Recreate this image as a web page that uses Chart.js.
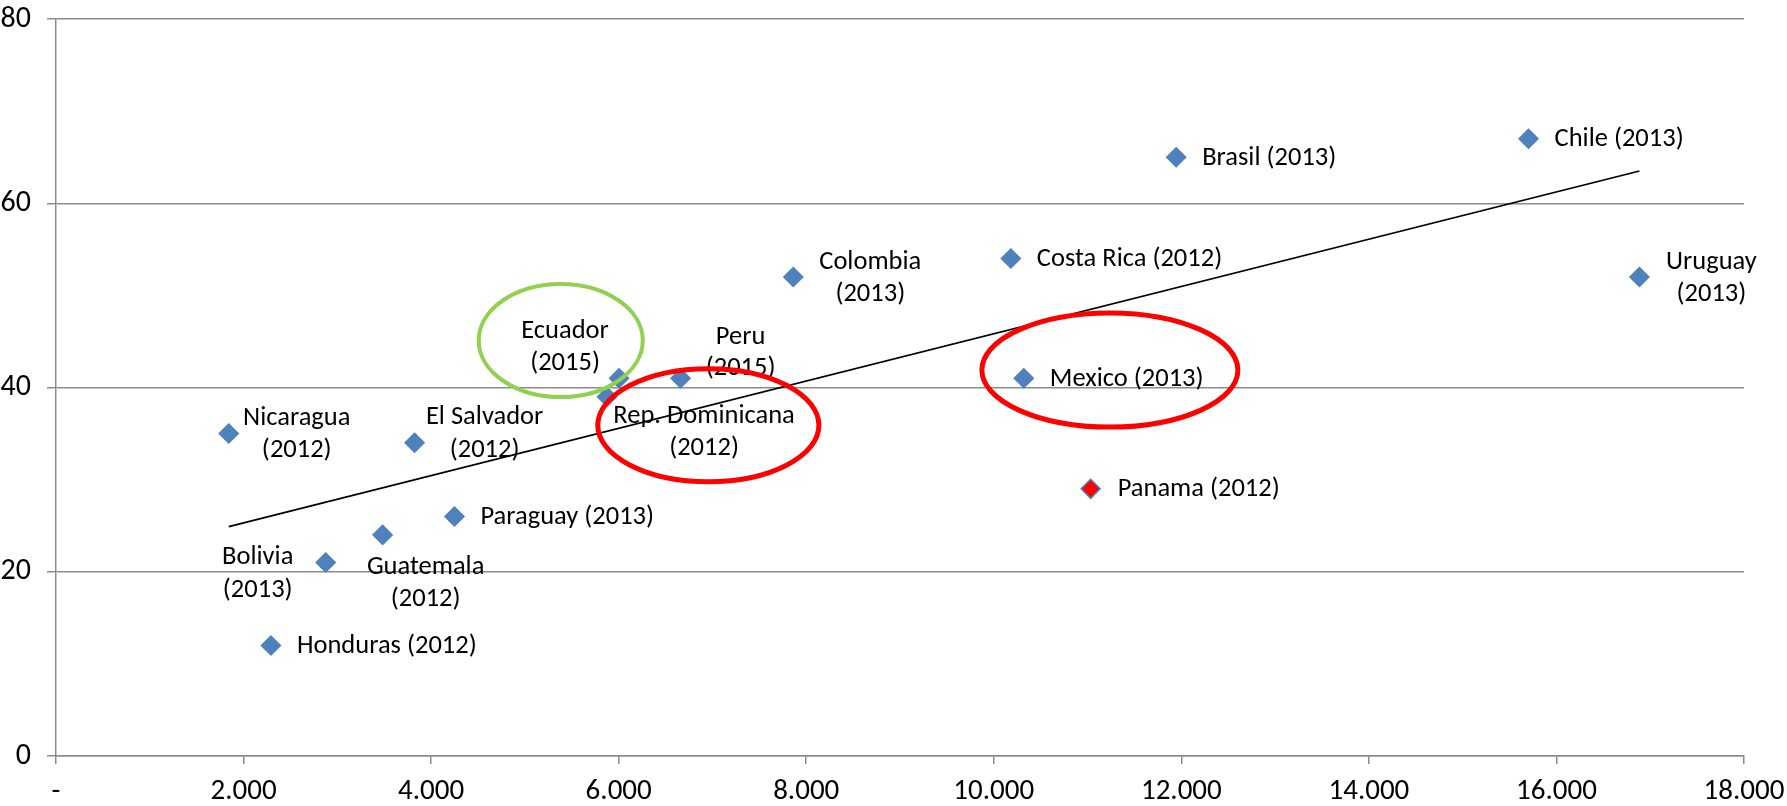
<!DOCTYPE html>
<html>
<head>
<meta charset="utf-8">
<script src="https://cdn.jsdelivr.net/npm/chart.js@4.4.1/dist/chart.umd.min.js"></script>
<style>
  html, body { margin: 0; padding: 0; background: #fff; }
  #wrap { width: 1787px; height: 806px; position: relative; }
</style>
</head>
<body>
<div id="wrap"><canvas id="chart"></canvas></div>
<script>
"use strict";

// Country points (x = income level, y = indicator), year of the observation
const COUNTRIES = ["Nicaragua", "El Salvador", "Bolivia", "Guatemala", "Paraguay", "Honduras",
  "Ecuador", "Rep. Dominicana", "Peru", "Colombia", "Costa Rica", "Mexico", "Panama",
  "Brasil", "Chile", "Uruguay"];
const YEARS = [2012, 2012, 2013, 2012, 2013, 2012, 2015, 2012, 2015, 2013, 2012, 2013, 2012,
  2013, 2013, 2013];
const X_VALUES = [1842, 3824, 2876, 3483, 4249, 2292, 6004, 5876, 6660, 7862, 10182, 10320, 11033,
  11945, 15702, 16885];
const Y_VALUES = [35, 34, 21, 24, 26, 12, 41, 39, 41, 52, 54, 41, 29, 65, 67, 52];

// Linear trend line, first and last point
const TREND_X = [1842, 16885];
const TREND_Y = [24.9, 63.5];

const X_TICKS = [0, 2000, 4000, 6000, 8000, 10000, 12000, 14000, 16000, 18000];
const X_TICK_LABELS = ["-", "2.000", "4.000", "6.000", "8.000", "10.000", "12.000", "14.000", "16.000", "18.000"];
const Y_TICKS = [0, 20, 40, 60, 80];

// Label placement per point: [dx, dy first line, dy second line or null]
// one-line labels are left-aligned at dx, two-line labels are centred on dx
const LABEL_LAYOUT = [
  [68, -15, 17],    // Nicaragua
  [70, -25, 8],     // El Salvador
  [-68, -5, 28],    // Bolivia
  [43, 32, 64],     // Guatemala
  [26, 1, null],    // Paraguay
  [26, 1, null],    // Honduras
  [-54, -47, -15],  // Ecuador
  [97, 20, 52],     // Rep. Dominicana
  [60, -41, -10],   // Peru
  [77, -15, 17],    // Colombia
  [26, 1, null],    // Costa Rica
  [26, 1, null],    // Mexico
  [27, 1, null],    // Panama
  [26, 1, null],    // Brasil
  [26, 1, null],    // Chile
  [72, -15, 17],    // Uruguay
];

// Hand-drawn highlight rings, in data units
const HIGHLIGHTS = [
  { cx: 5382, cy: 45.1, rx: 875, ry: 6.14, color: "#92D050", width: 4 },
  { cx: 6956, cy: 35.9, rx: 1179, ry: 6.14, color: "#FF0000", width: 5 },
  { cx: 11238, cy: 41.9, rx: 1365, ry: 6.2, color: "#FF0000", width: 5 },
];

const FONT = "Carlito, Calibri, Lato, sans-serif";
const FONT_SIZE = 26.5;
const BLUE = "#4F81BD";
const GRID = "#8c8c8c";

const pointColors = COUNTRIES.map((c) => (c === "Panama" ? "#FF0000" : BLUE));

const pointLabels = {
  id: "pointLabels",
  afterDatasetsDraw(chart) {
    const meta = chart.getDatasetMeta(0);
    const ctx = chart.ctx;
    ctx.save();
    ctx.fillStyle = "#000";
    ctx.font = `${FONT_SIZE}px ${FONT}`;
    ctx.textBaseline = "middle";
    meta.data.forEach((pt, i) => {
      const [dx, dy1, dy2] = LABEL_LAYOUT[i];
      if (dy2 === null) {
        ctx.textAlign = "left";
        ctx.fillText(`${COUNTRIES[i]} (${YEARS[i]})`, pt.x + dx, pt.y + dy1);
      } else {
        ctx.textAlign = "center";
        ctx.fillText(COUNTRIES[i], pt.x + dx, pt.y + dy1);
        ctx.fillText(`(${YEARS[i]})`, pt.x + dx, pt.y + dy2);
      }
    });
    ctx.restore();
  },
};

const rings = {
  id: "rings",
  afterDraw(chart) {
    const { ctx, scales: { x, y } } = chart;
    ctx.save();
    HIGHLIGHTS.forEach((h) => {
      const cx = x.getPixelForValue(h.cx);
      const cy = y.getPixelForValue(h.cy);
      const rx = x.getPixelForValue(h.cx + h.rx) - cx;
      const ry = cy - y.getPixelForValue(h.cy + h.ry);
      ctx.beginPath();
      ctx.ellipse(cx, cy, rx, ry, 0, 0, Math.PI * 2);
      ctx.lineWidth = h.width;
      ctx.strokeStyle = h.color;
      ctx.stroke();
    });
    ctx.restore();
  },
};

new Chart(document.getElementById("chart"), {
  type: "scatter",
  data: {
    datasets: [
      {
        label: "Países",
        data: X_VALUES.map((x, i) => ({ x, y: Y_VALUES[i] })),
        pointStyle: "rectRot",
        pointRadius: 9.5,
        pointHoverRadius: 9.5,
        backgroundColor: pointColors,
        borderColor: BLUE,
        borderWidth: 1.5,
        order: 0,
      },
      {
        label: "Tendencia",
        type: "line",
        data: TREND_X.map((x, i) => ({ x, y: TREND_Y[i] })),
        borderColor: "#000",
        borderWidth: 1.7,
        pointRadius: 0,
        fill: false,
        tension: 0,
        order: 1,
      },
    ],
  },
  plugins: [pointLabels, rings],
  options: {
    responsive: true,
    maintainAspectRatio: false,
    animation: false,
    layout: { padding: { top: 19, right: 43, left: 0, bottom: 0 } },
    plugins: { legend: { display: false }, tooltip: { enabled: false } },
    scales: {
      x: {
        type: "linear",
        min: 0, max: 18000,
        afterBuildTicks: (s) => { s.ticks = X_TICKS.map((v) => ({ value: v })); },
        afterFit: (s) => { s.height = 50; s.paddingLeft = 0; s.paddingRight = 0; },
        ticks: {
          autoSkip: false, maxRotation: 0, padding: 10, color: "#000",
          font: { family: FONT, size: 29 },
          callback: (v, i) => X_TICK_LABELS[i],
        },
        grid: { drawOnChartArea: false, drawTicks: true, tickLength: 8, color: GRID, lineWidth: 1.5 },
        border: { color: GRID, width: 1.5 },
      },
      y: {
        min: 0, max: 80,
        afterBuildTicks: (s) => { s.ticks = Y_TICKS.map((v) => ({ value: v })); },
        afterFit: (s) => { s.width = 56; s.paddingTop = 0; s.paddingBottom = 0; },
        ticks: {
          padding: 16, color: "#000",
          font: { family: FONT, size: 30 },
        },
        grid: { color: GRID, lineWidth: 1.5, tickLength: 9 },
        border: { color: GRID, width: 1.5 },
      },
    },
  },
});
</script>
</body>
</html>
